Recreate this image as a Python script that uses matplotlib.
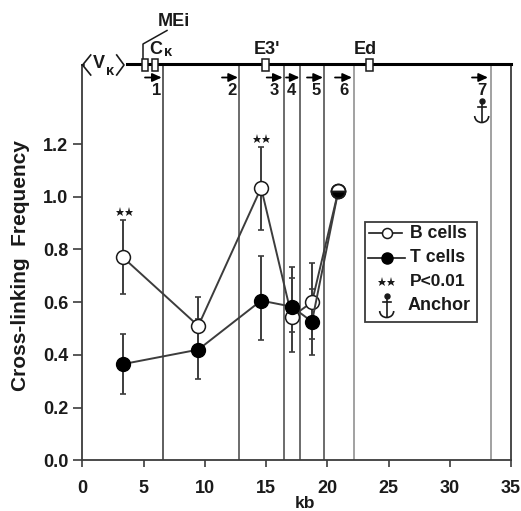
import matplotlib
matplotlib.use('Agg')
import matplotlib.pyplot as plt
from matplotlib.patches import Rectangle, Arc

plt.rcParams['font.family'] = ['Liberation Sans', 'DejaVu Sans']
plt.rcParams['font.weight'] = 'bold'

KB = [3.32, 9.47, 14.6, 17.1, 18.75, 20.9]
B_CELLS = [0.77, 0.51, 1.034, 0.545, 0.60, 1.022]
B_LOW = [0.63, 0.40, 0.875, 0.412, 0.46, 1.022]
B_HIGH = [0.91, 0.62, 1.19, 0.69, 0.75, 1.022]
T_CELLS = [0.365, 0.42, 0.606, 0.583, 0.526, 1.022]
T_LOW = [0.25, 0.31, 0.455, 0.488, 0.40, 1.022]
T_HIGH = [0.48, 0.535, 0.775, 0.735, 0.65, 1.022]
SITES = [6.6, 12.8, 16.5, 17.75, 19.75, 22.2, 33.4]
SITE_COLORS = ['#333333', '#444444', '#444444', '#444444', '#444444', '#888888', '#888888']
XTICKS = [0, 5, 10, 15, 20, 25, 30, 35]
YTICKS = [0.0, 0.2, 0.4, 0.6, 0.8, 1.0, 1.2]

W, H = 521, 511
INK = '#1a1a1a'
GREY = '#3c3c3c'


def draw_anchor(ov, x, top, z=3):
    """Little anchor symbol, 22 px tall"""
    ov.plot([x], [top], 'o', ms=3.6, color=INK, zorder=z)
    ov.plot([x, x], [top, top + 21], color=INK, lw=1.2, zorder=z)
    ov.plot([x - 4, x + 4], [top + 6, top + 6], color=INK, lw=1.2, zorder=z)
    ov.add_patch(Arc((x, top + 15), 14, 13, theta1=0, theta2=180, color=INK, lw=1.2, zorder=z))


def draw_stars(ov, x, y, gap=9, ms=6.5, z=3):
    ov.plot([x - gap / 2, x + gap / 2], [y, y], '*', ms=ms, color=INK, mew=0, zorder=z)


def main():
    fig = plt.figure(figsize=(W / 100, H / 100), dpi=100)
    ax = fig.add_axes([82.3 / W, (H - 460.3) / H, 428.7 / W, 395.3 / H])

    for s, c in zip(SITES, SITE_COLORS):
        ax.axvline(s, color=c, lw=1.1, zorder=1)

    # B cells
    ax.errorbar(KB, B_CELLS,
                yerr=[[v - l for v, l in zip(B_CELLS, B_LOW)], [h - v for v, h in zip(B_CELLS, B_HIGH)]],
                fmt='none', ecolor=GREY, elinewidth=1.4, capsize=2, capthick=1.2, zorder=2)
    ax.plot(KB, B_CELLS, '-o', color=GREY, lw=1.4, ms=10, mfc='white', mec=INK, mew=1.1, zorder=3)

    # T cells
    ax.errorbar(KB, T_CELLS,
                yerr=[[v - l for v, l in zip(T_CELLS, T_LOW)], [h - v for v, h in zip(T_CELLS, T_HIGH)]],
                fmt='none', ecolor=GREY, elinewidth=1.4, capsize=2, capthick=1.2, zorder=2)
    ax.plot(KB, T_CELLS, '-o', color=GREY, lw=1.4, ms=10, mfc='black', mec='black', zorder=4)

    # the two series meet at the last point
    ax.plot(KB[-1], T_CELLS[-1], 'o', ms=10, fillstyle='bottom', mfc='black',
            markerfacecoloralt='white', mec=INK, mew=1.3, zorder=5)

    ax.set_xlim(0, 35)
    ax.set_ylim(0, 1.5)
    ax.set_xticks(XTICKS)
    ax.set_yticks(YTICKS)
    ax.set_yticklabels([f'{v:.1f}' for v in YTICKS])
    ax.tick_params(axis='x', length=5, width=1.2, color=GREY, labelsize=13, pad=9, labelcolor=INK)
    ax.tick_params(axis='y', length=6.5, width=1.2, color=GREY, labelsize=13, pad=3.5, labelcolor=INK)
    ax.spines['top'].set_visible(False)
    for side in ['left', 'right', 'bottom']:
        ax.spines[side].set_linewidth(1.3)
        ax.spines[side].set_color(GREY)

    # Overlay in pixel units for axis titles, gene map and the legend
    ov = fig.add_axes([0, 0, 1, 1], facecolor='none')
    ov.set_xlim(0, W)
    ov.set_ylim(H, 0)
    ov.axis('off')

    ov.text(21, 265.5, 'Cross-linking  Frequency', fontsize=15, color=INK, rotation=90,
            ha='center', va='center')
    ov.text(305, 503, 'kb', fontsize=12.5, color=INK, ha='center', va='center')

    ov.plot([127, 511], [64.5, 64.5], color='black', lw=2.2)
    ov.plot([82.3, 84], [65, 65], color=INK, lw=1.2)
    for x in [145, 155, 265.7, 369.3]:
        ov.add_patch(Rectangle((x - 3.3, 59), 6.6, 12.5, fc='white', ec=INK, lw=1.1, zorder=3))
    ov.plot([143, 143, 167], [59, 44, 30.5], color=INK, lw=1.1)

    # V kappa with its angle brackets
    ov.plot([90.7, 82.6, 90.7], [55, 65, 75], color=INK, lw=1.2)
    ov.plot([116.7, 124, 116.7], [55, 65, 75], color=INK, lw=1.2)
    ov.text(93, 64, 'V', fontsize=13, color=INK, ha='left', va='center')
    ov.text(110.5, 71, 'κ', fontsize=10.5, color=INK, ha='center', va='center')

    ov.text(173.5, 21, 'MEi', fontsize=13, color=INK, ha='center', va='center')
    ov.text(156, 50, 'C', fontsize=13, color=INK, ha='center', va='center')
    ov.text(168.5, 52, 'κ', fontsize=10.5, color=INK, ha='center', va='center')
    ov.text(267, 50, "E3'", fontsize=13, color=INK, ha='center', va='center')
    ov.text(365, 50, 'Ed', fontsize=13, color=INK, ha='center', va='center')

    arrows = [(145, 161.7), (222, 238), (266.7, 282.7), (286, 299.5), (307, 323), (335, 352), (472, 488)]
    nums = [156.7, 232, 274, 291.7, 316, 344, 482]
    for (a, b), n, name in zip(arrows, nums, '1234567'):
        ov.annotate('', xy=(b, 77.5), xytext=(a, 77.5),
                    arrowprops=dict(arrowstyle='-|>,head_length=0.55,head_width=0.25',
                                    color='black', lw=1.3, shrinkA=0, shrinkB=0))
        ov.text(n, 90.7, name, fontsize=12, color=INK, ha='center', va='center')

    draw_anchor(ov, 481.7, 101)

    draw_stars(ov, 124, 212)
    draw_stars(ov, 261, 139)

    # Legend box
    ov.add_patch(Rectangle((364.5, 222), 112, 100, fc='white', ec=GREY, lw=1.3, zorder=6))
    ov.plot([369, 402], [233, 233], '-', color=INK, lw=1.2, zorder=7)
    ov.plot([386.7], [233], 'o', ms=7.2, mfc='white', mec=INK, mew=1.1, zorder=8)
    ov.plot([368, 405], [258, 258], '-', color=INK, lw=1.2, zorder=7)
    ov.plot([386.7], [258], 'o', ms=8, mfc='black', mec='black', zorder=8)
    draw_stars(ov, 386.7, 281.7, z=8)
    ov.text(410, 233, 'B cells', fontsize=12.7, color=INK, va='center', zorder=8)
    ov.text(410, 258, 'T cells', fontsize=12.7, color=INK, va='center', zorder=8)
    ov.text(410, 282, 'P<0.01', fontsize=12.5, color=INK, va='center', zorder=8)
    ov.text(408, 305, 'Anchor', fontsize=13, color=INK, va='center', zorder=8)
    draw_anchor(ov, 386.7, 296, z=8)

    fig.savefig('out.png', dpi=100)


if __name__ == "__main__":
    main()
